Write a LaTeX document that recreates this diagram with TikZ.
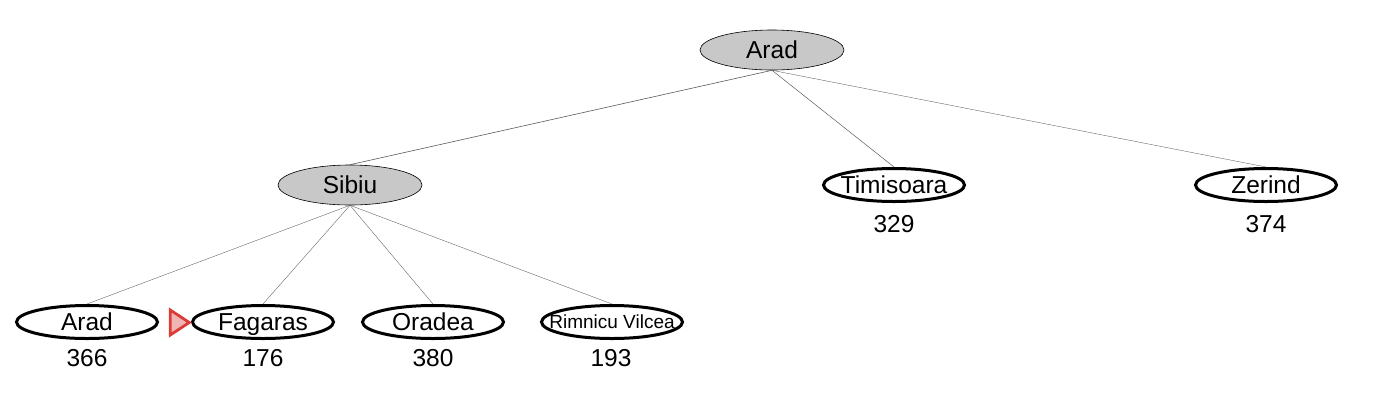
\documentclass[tikz,border=0pt]{standalone}
\usepackage{fontspec}
\setmainfont{Liberation Sans}
\usetikzlibrary{shapes.geometric}
\definecolor{nodegray}{RGB}{200,200,200}
\definecolor{edgegray}{RGB}{90,90,90}
\definecolor{markred}{RGB}{220,60,55}
\definecolor{markpink}{RGB}{240,180,180}
\newsavebox{\citybox}
\tikzset{
  % text boxed to zero width, so all ellipses keep the same size
  fixed text/.style={
    execute at begin node={\setbox\citybox=\hbox\bgroup},
    execute at end node={\egroup\ht\citybox=\fontcharht\font`A\dp\citybox=0pt%
      \hbox to 0pt{\hss\box\citybox\hss}}},
  city/.style={ellipse, draw, inner sep=0pt, minimum width=144pt, minimum height=37pt,
    fixed text, font=\fontsize{24.5}{27}\selectfont},
  expanded/.style={city, fill=nodegray, line width=0.6pt, minimum height=40pt},
  frontier/.style={city, line width=3pt, minimum width=141pt, minimum height=33pt},
  cost/.style={inner sep=0pt, fixed text, font=\fontsize{24.5}{27}\selectfont},
  branch/.style={draw=edgegray, line width=0.5pt},
}
\begin{document}
\begin{tikzpicture}[x=1pt,y=-1pt]
  \useasboundingbox (0,0) rectangle (1396,400);
  % level 0
  \node[expanded] (root) at (772,50) {Arad};
  % level 1
  \node[expanded] (sibiu) at (350,185) {Sibiu};
  \node[frontier] (timisoara) at (894,185) {Timisoara};
  \node[frontier] (zerind) at (1266,185) {Zerind};
  % level 2
  \node[frontier] (arad) at (87,322) {Arad};
  \node[frontier] (fagaras) at (263,322) {Fagaras};
  \node[frontier] (oradea) at (433,322) {Oradea};
  \node[frontier, font=\fontsize{19}{22}\selectfont] (rimnicu) at (612,322) {Rimnicu Vilcea};
  % costs
  \node[cost] (c-timisoara) at (894,224) {329};
  \node[cost] (c-zerind) at (1266,224) {374};
  \node[cost] (c-arad) at (87,358) {366};
  \node[cost] (c-fagaras) at (263,358) {176};
  \node[cost] (c-oradea) at (433,358) {380};
  \node[cost] (c-rimnicu) at (611,358) {193};
  % marker
  \node[isosceles triangle, isosceles triangle stretches, draw=markred, fill=markpink,
    line width=2.8pt, inner sep=0pt, minimum height=19pt, minimum width=25pt] (pick) at (177,322.5) {};
  % branches
  \draw[branch, line width=0.6pt] (root.south) -- (sibiu.north);
  \draw[branch] (root.south) -- (timisoara.north);
  \draw[branch, line width=0.35pt] (root.south) -- (zerind.north);
  \foreach \c in {arad,fagaras,oradea,rimnicu}
    \draw[branch, line width=0.35pt] (sibiu.south) -- (\c.north);
\end{tikzpicture}
\end{document}
